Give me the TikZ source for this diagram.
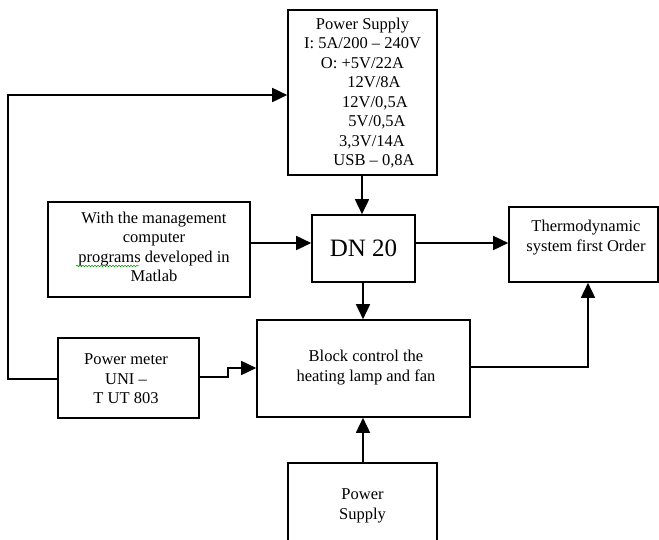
\documentclass[tikz,border=0pt]{standalone}
\usepackage{fontspec}
\setmainfont{Liberation Serif}
\usetikzlibrary{arrows.meta,calc,decorations.pathmorphing}
\begin{document}
\begin{tikzpicture}[x=1pt,y=-1pt,
  box/.style={draw,line width=1.6pt,rectangle,inner sep=0pt,align=center},
  txt/.style={inner sep=0pt,align=center,font=\fontsize{16.5}{19.5}\selectfont},
  conn/.style={line width=1.6pt},
  arr/.style={conn,-{Triangle[length=15pt,width=14pt]}}]
\useasboundingbox (0,0) rectangle (659,540);
\clip (0,0) rectangle (659,540);
% boxes
\node[box,minimum width=149pt,minimum height=165pt] (ps) at (362.5,92.5) {};
\node[txt] (pstext) at (362.5,93) {Power Supply\\I: 5A/200 -- 240V\\O: +5V/22A\\\hspace*{23pt}12V/8A\\\hspace*{25pt}12V/0,5A\\\hspace*{29pt}5V/0,5A\\\hspace*{19pt}3,3V/14A\\\hspace*{23pt}USB -- 0,8A};
\node[box,minimum width=202pt,minimum height=95pt] (man) at (149,249.5) {};
\node[txt] (mantext) at (154,247) {With the management\\computer\\programs developed in\\Matlab};
\node[box,minimum width=103pt,minimum height=67pt,font=\fontsize{25}{30}\selectfont] (dn) at (363.5,248.5) {DN 20};
\node[box,minimum width=149pt,minimum height=75pt] (th) at (583.5,244.5) {};
\node[txt] (thtext) at (586,237.5) {Thermodynamic\\system first Order};
\node[box,minimum width=213pt,minimum height=97pt] (blk) at (363.5,368.5) {};
\node[txt] (blktext) at (366,367.5) {Block control the\\heating lamp and fan};
\node[box,minimum width=141pt,minimum height=80pt] (pm) at (128.5,378) {};
\node[txt] (pmtext) at (126,379) {Power meter\\UNI --\\T UT 803};
\node[box,minimum width=149pt,minimum height=80pt] (ps2) at (362.5,503) {};
\node[txt] (ps2text) at (362.5,506) {Power\\Supply};
% spell-check squiggle
\coordinate (sqa) at (76,266);
\coordinate (sqb) at (139,266);
\draw[green!60!black,line width=0.5pt,decorate,decoration={snake,amplitude=0.8pt,segment length=3pt}] (sqa) -- (sqb);
% connectors
\draw[arr] (ps.south -| 362,0) -- (dn.north -| 362,0);
\draw[arr] (man.east |- 0,243) -- (dn.west |- 0,243);
\draw[arr] (dn.east |- 0,243) -- (th.west |- 0,243);
\draw[arr] (dn.south -| 363,0) -- (blk.north -| 363,0);
\coordinate (bt) at (588,367);
\draw[arr] (blk.east |- bt) -- (bt) -- (th.south -| bt);
\coordinate (pmj1) at (228,377);
\coordinate (pmj2) at (228,368);
\draw[arr] (pm.east |- pmj1) -- (pmj1) -- (pmj2) -- (blk.west |- pmj2);
\coordinate (lc1) at (8,379);
\coordinate (lc2) at (8,95);
\draw[arr] (pm.west |- lc1) -- (lc1) -- (lc2) -- (ps.west |- lc2);
\draw[arr] (ps2.north -| 363,0) -- (blk.south -| 363,0);
\end{tikzpicture}
\end{document}
